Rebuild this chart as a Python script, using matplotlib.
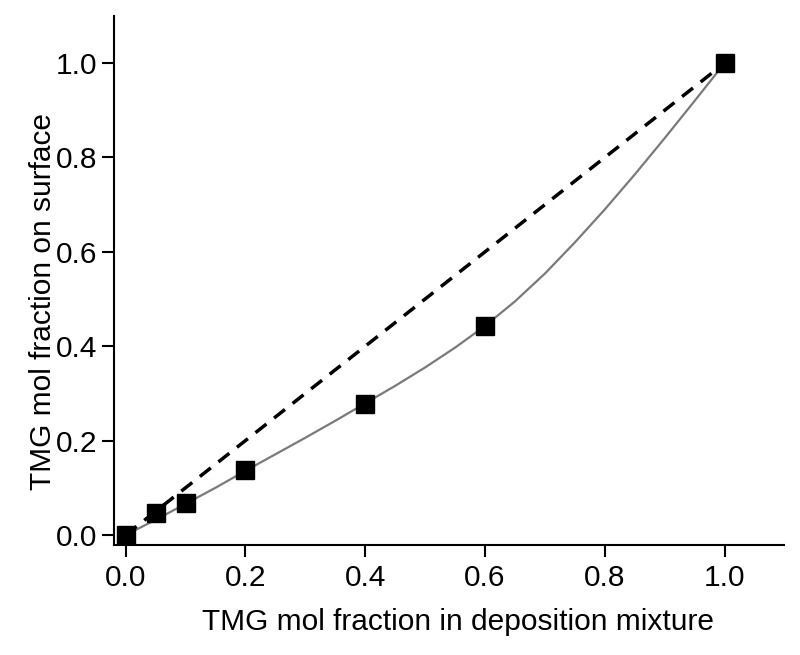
import matplotlib
matplotlib.use('Agg')
import matplotlib.pyplot as plt

plt.rcParams['font.family'] = ['Liberation Sans', 'DejaVu Sans']

# measured points
x_meas = [0.0, 0.05, 0.1, 0.2, 0.4, 0.6, 1.0]
y_meas = [0.0, 0.046, 0.068, 0.137, 0.277, 0.442, 1.0]

# fitted curve
x_fit = [0.0, 0.05, 0.1, 0.15, 0.2, 0.25, 0.3, 0.35, 0.4, 0.45, 0.5,
         0.55, 0.6, 0.65, 0.7, 0.75, 0.8, 0.85, 0.9, 0.95, 1.0]
y_fit = [0.0, 0.032, 0.066, 0.1, 0.136, 0.171, 0.206, 0.242, 0.279, 0.316, 0.355,
         0.397, 0.443, 0.495, 0.554, 0.62, 0.69, 0.764, 0.841, 0.92, 1.0]

# ideal (surface = solution) line
x_ideal = [0.0, 1.0]
y_ideal = [0.0, 1.0]

ticks = [0.0, 0.2, 0.4, 0.6, 0.8, 1.0]

fig = plt.figure(figsize=(8, 6.55), dpi=100)
ax = fig.add_axes([0.1425, 0.168, 0.8375, 0.8076])

ax.plot(x_fit, y_fit, color='#7a7a7a', lw=1.6, zorder=2)
ax.plot(x_ideal, y_ideal, color='black', lw=2.5, dashes=(4, 2.8), zorder=2)
ax.plot(x_meas, y_meas, 's', color='black', ms=12.5, zorder=3)

ax.set_xlim(-0.0195, 1.099)
ax.set_ylim(-0.0212, 1.0996)
ax.set_xticks(ticks)
ax.set_yticks(ticks)
ax.set_xticklabels(['%.1f' % t for t in ticks])
ax.set_yticklabels(['%.1f' % t for t in ticks])

for s in ['top', 'right']:
    ax.spines[s].set_visible(False)
for s in ['left', 'bottom']:
    ax.spines[s].set_linewidth(1.5)

ax.tick_params(axis='x', direction='out', length=8.5, width=1.5, pad=5, labelsize=21.5)
ax.tick_params(axis='y', direction='out', length=8.5, width=1.5, pad=3.5, labelsize=21.5)

fig.text(458 / 800, 1 - 630 / 655, 'TMG mol fraction in deposition mixture',
         ha='center', va='baseline', fontsize=21.5)
fig.text(43 / 800, 1 - 301.5 / 655, 'TMG mol fraction on surface',
         ha='center', va='center', rotation=90, fontsize=21.5)

fig.savefig('out.png', dpi=100)
